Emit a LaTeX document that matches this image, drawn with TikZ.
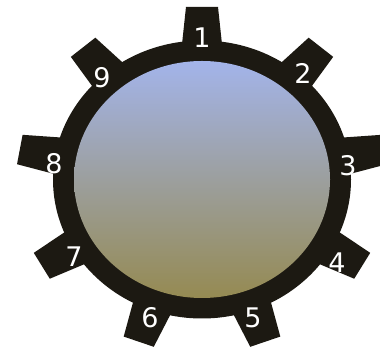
\documentclass[tikz,border=0pt]{standalone}
\usepackage{fontspec}
\setmainfont{DejaVu Sans}
\definecolor{ringcol}{HTML}{1C1912}
\definecolor{topcol}{HTML}{A3B4EA}
\definecolor{midcol}{HTML}{9BA2B6}
\definecolor{botcol}{HTML}{958A52}
\tikzset{
  tooth/.style={fill=ringcol},
  numlabel/.style={text=white, font=\fontsize{27}{27}\selectfont, inner sep=0pt}
}
\begin{document}
\begin{tikzpicture}[x=1pt,y=1pt]
\useasboundingbox (0,0) rectangle (380,347);
\begin{scope}[shift={(202,167.5)}]
  \begin{scope}[yscale=0.933]
    \foreach \a in {90,50,10,-30,-70,-110,-150,170,130}{
      \fill[tooth,rotate=\a] (135,-21) -- (185,-16) -- (185,16) -- (135,21) -- cycle;
    }
  \end{scope}
  \fill[ringcol] (0,0) ellipse [x radius=149, y radius=139];
  \shade[top color=topcol, middle color=midcol, bottom color=botcol] (0,0) ellipse [x radius=128, y radius=118.5];
\end{scope}
\node[numlabel] (l1) at (202,309) {1};
\node[numlabel] (l2) at (303,274) {2};
\node[numlabel] (l3) at (348,181) {3};
\node[numlabel] (l4) at (337,84) {4};
\node[numlabel] (l5) at (253,29) {5};
\node[numlabel] (l6) at (150,29) {6};
\node[numlabel] (l7) at (74,90) {7};
\node[numlabel] (l8) at (54,183) {8};
\node[numlabel] (l9) at (102,269) {9};
\end{tikzpicture}
\end{document}
